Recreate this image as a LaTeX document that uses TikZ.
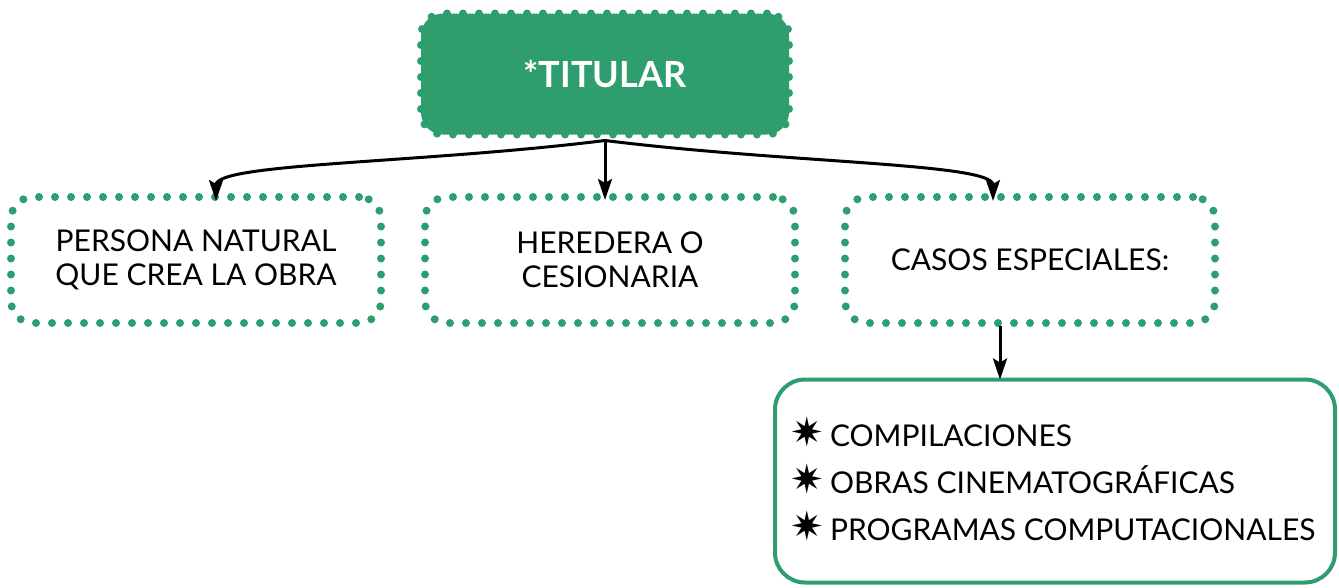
\documentclass[tikz,border=0pt]{standalone}
\usepackage{fontspec}
\setmainfont{Lato}
\newfontfamily\symfont{DejaVu Sans}
\usetikzlibrary{arrows.meta}
\definecolor{verde}{RGB}{47,158,111}
\newcommand{\estrella}{{\symfont\fontsize{40}{47}\selectfont ✷}\hspace{6pt}}

\begin{document}
\begin{tikzpicture}[x=1pt, y=-1pt,
		puntos/.style={draw=verde, line width=8pt, line cap=round, dash pattern=on 0pt off 16pt, rounded corners=22pt, outer sep=0pt, minimum width=370pt, minimum height=126pt, align=center, font=\fontsize{30}{34}\selectfont},
		flecha/.style={-{Stealth[length=21pt, width=14pt, inset=4pt]}, line width=3pt}]
				\useasboundingbox (0, 0) rectangle (1339, 587);
				\node[puntos, fill=verde, text=white, minimum width=368pt, minimum height=121pt, font=\fontsize{36}{40}\selectfont\bfseries] (T)at(605, 74) {*TITULAR};
				\node[puntos] (PN)at(196, 260) {PERSONA NATURAL\\QUE CREA LA OBRA};
				\node[puntos] (HC)at(610, 260) {HEREDERA O\\CESIONARIA};
				\node[puntos] (CE)at(1030, 260) {CASOS ESPECIALES:};
				\node[draw=verde, line width=4pt, rounded corners=30pt, outer sep=0pt, minimum width=560pt, minimum height=203pt] (CS)at(1055, 481) {};
				\node[anchor=west, align=left, font=\fontsize{30}{47}\selectfont] (L)at(787, 479) {\estrella COMPILACIONES\\\estrella OBRAS CINEMATOGRÁFICAS\\\estrella PROGRAMAS COMPUTACIONALES};
				\draw[flecha] ([yshift=-6pt]T.south) .. controls +(-185, 23) and +(0, -38) .. ([xshift=20pt, yshift=-4pt]PN.north);
				\draw[flecha] ([yshift=-6pt]T.south) -- ([yshift=-3pt]T.south |- HC.north);
				\draw[flecha] ([yshift=-6pt]T.south) .. controls +(185, 23) and +(0, -38) .. ([xshift=-37pt, yshift=-4pt]CE.north);
				\draw[flecha] ([xshift=-30pt, yshift=-3pt]CE.south) -- ([xshift=-55pt]CS.north);
			\end{tikzpicture}
\end{document}
